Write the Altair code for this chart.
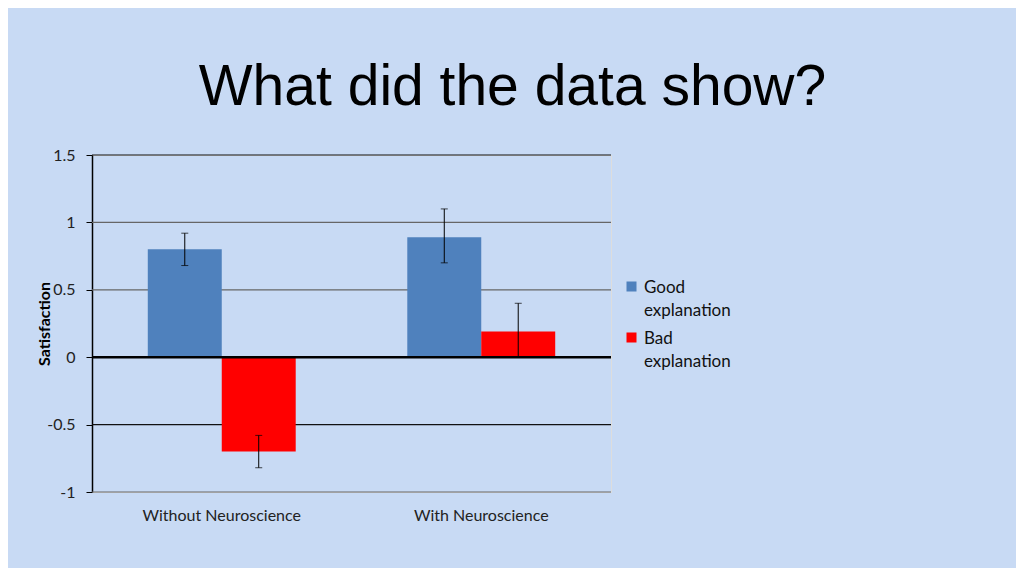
import altair as alt
import pandas as pd

groups = ["Without Neuroscience", "With Neuroscience"]
kinds = ["Good explanation", "Bad explanation"]
means = [0.80, -0.70, 0.89, 0.19]
err_low = [0.68, -0.82, 0.70, 0.00]
err_high = [0.92, -0.58, 1.10, 0.40]
y_ticks = [-1, -0.5, 0, 0.5, 1, 1.5]

rows = []
i = 0
for g in groups:
    for k in kinds:
        rows.append({"group": g, "kind": k, "mean": means[i],
                     "lo": err_low[i], "hi": err_high[i]})
        i += 1
df = pd.DataFrame(rows)

FONT = "Lato"

x_enc = alt.X("group:N", sort=groups, title=None,
              scale=alt.Scale(paddingInner=0.43, paddingOuter=0.215),
              axis=alt.Axis(labelAngle=0, labelFontSize=16, labelFont=FONT,
                            labelColor="#222", labelPadding=15, domain=False,
                            ticks=False))
xo = alt.XOffset("kind:N", sort=kinds, scale=alt.Scale(paddingInner=0, paddingOuter=0))

base = alt.Chart(df)

# chart-style gridlines: some dark, some grey
grid = alt.Chart(pd.DataFrame({"v": y_ticks})).mark_rule(strokeWidth=1.2).encode(
    y=alt.Y("v:Q"),
    color=alt.condition("datum.v == 1.5 || datum.v == -0.5",
                        alt.value("#111"), alt.value("#666")),
)

bars = base.mark_bar().encode(
    x=x_enc,
    xOffset=xo,
    y=alt.Y("mean:Q", scale=alt.Scale(domain=[-1, 1.5], nice=False),
            title="Satisfaction",
            axis=alt.Axis(values=y_ticks, grid=False, labelFontSize=16,
                          labelFont=FONT, labelColor="#222", labelPadding=11,
                          labelExpr="toString(datum.value)",
                          domainColor="black", domainWidth=1.5,
                          tickColor="black", tickSize=6,
                          titleFont=FONT, titleFontSize=16, titleFontWeight="bold",
                          titleColor="black", titlePadding=-6)),
    color=alt.Color("kind:N", sort=kinds,
                    scale=alt.Scale(domain=kinds, range=["#4f81bd", "#ff0000"]),
                    legend=alt.Legend(title=None, orient="none", legendX=531, legendY=129,
                                      symbolType="M-1,-2.2H1V-0.2H-1Z", symbolSize=100,
                                      symbolStrokeWidth=0,
                                      labelFont=FONT, labelFontSize=17,
                                      labelColor="#111", labelLimit=200,
                                      labelExpr="split(datum.label, ' ')",
                                      rowPadding=10, labelBaseline="alphabetic",
                                      labelOffset=4)),
)

errs = base.mark_errorbar(ticks=alt.MarkConfig(size=7), color="black", thickness=1).encode(
    x=alt.X("group:N", sort=groups),
    xOffset=xo,
    y=alt.Y("lo:Q", title="Satisfaction"),
    y2="hi:Q",
)

zero = alt.Chart(pd.DataFrame({"v": [0]})).mark_rule(color="black", strokeWidth=2.5).encode(
    y="v:Q"
)

chart = alt.layer(grid, bars, errs, zero).properties(
    width=519, height=337,
    autosize=alt.AutoSizeParams(type="none"),
    padding={"left": 84, "top": 147, "right": 405, "bottom": 76},
    background="#c8daf4",
    title=alt.TitleParams("What did the data show?", font="Liberation Sans",
                          fontSize=57, fontWeight="normal", color="black",
                          anchor="middle", dx=161, offset=30),
).configure_view(fill="white", stroke=None).configure(
    style={"guide-label": {"lineHeight": 23}}
)

chart.save("out.html", embed_options={"renderer": "svg", "actions": False})
